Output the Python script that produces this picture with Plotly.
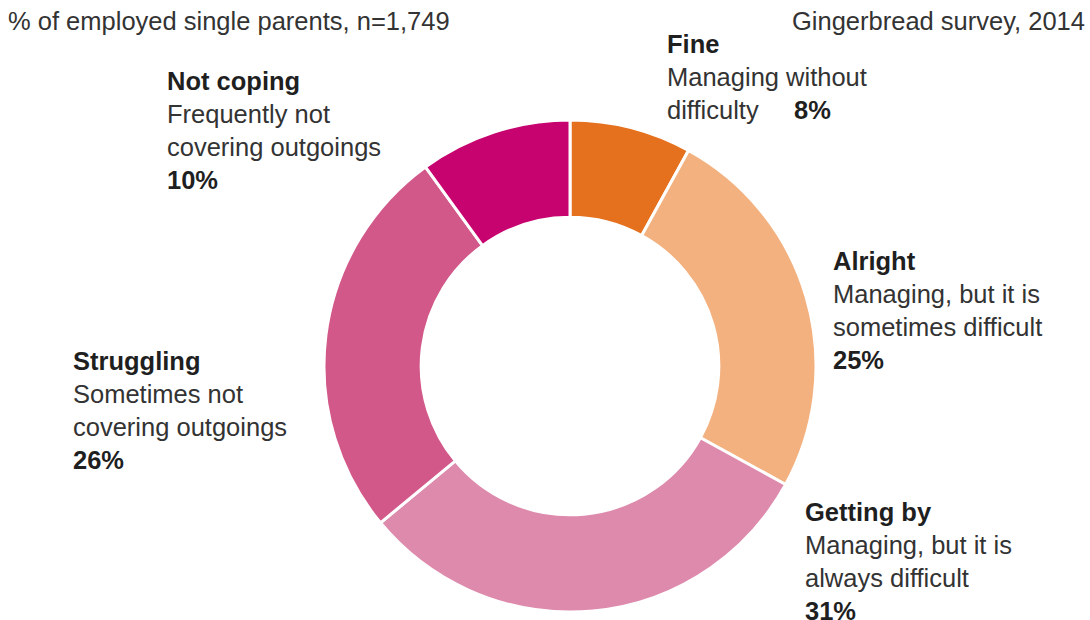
import plotly.graph_objects as go

categories = ["Fine", "Alright", "Getting by", "Struggling", "Not coping"]
descriptions = ["Managing without<br>difficulty", "Managing, but it is<br>sometimes difficult",
                "Managing, but it is<br>always difficult", "Sometimes not<br>covering outgoings",
                "Frequently not<br>covering outgoings"]
values = [8, 25, 31, 26, 10]
colors = ["#E5711E", "#F3B17F", "#DD8AAC", "#D25889", "#C6036F"]

W, H = 1090, 620
cx, cy, R = 570, 366, 246

fig = go.Figure(go.Pie(
    labels=categories, values=values, sort=False, direction="clockwise", rotation=0,
    hole=0.605, marker=dict(colors=colors, line=dict(color="white", width=3)),
    textinfo="none", hoverinfo="label+percent", showlegend=False,
    domain=dict(x=[(cx - R) / W, (cx + R) / W], y=[(H - cy - R) / H, (H - cy + R) / H]),
))

FONT = "Liberation Sans, Arial, sans-serif"
FS = 25.5
TXT = "#333333"
B = "#1f1f1f"


def ann(x, ytop, text, xanchor="left", align="left"):
    fig.add_annotation(x=x / W, y=1 - ytop / H, xref="paper", yref="paper", text=text,
                       showarrow=False, xanchor=xanchor, yanchor="top", align=align,
                       font=dict(family=FONT, size=FS, color=TXT))


def b(s):
    return f"<b><span style='color:{B}'>{s}</span></b>"


def pct(i):
    return b(f"{values[i]}%")


ann(6, 5, "% of employed single parents, n=1,749")
ann(1087, 5, "Gingerbread survey, 2014", xanchor="right", align="right")

ann(665, 28, f"{b(categories[0])}<br>{descriptions[0]}     {pct(0)}")
ann(165, 65, f"{b(categories[4])}<br>{descriptions[4]}<br>{pct(4)}")
ann(831, 245, f"{b(categories[1])}<br>{descriptions[1]}<br>{pct(1)}")
ann(71, 345, f"{b(categories[3])}<br>{descriptions[3]}<br>{pct(3)}")
ann(803, 496, f"{b(categories[2])}<br>{descriptions[2]}<br>{pct(2)}")

fig.update_layout(width=W, height=H, margin=dict(l=0, r=0, t=0, b=0),
                  paper_bgcolor="white", plot_bgcolor="white")

fig.write_html("out.html", config={"displayModeBar": False},
               post_script="document.body.style.margin='0';document.body.style.overflow='hidden';")
